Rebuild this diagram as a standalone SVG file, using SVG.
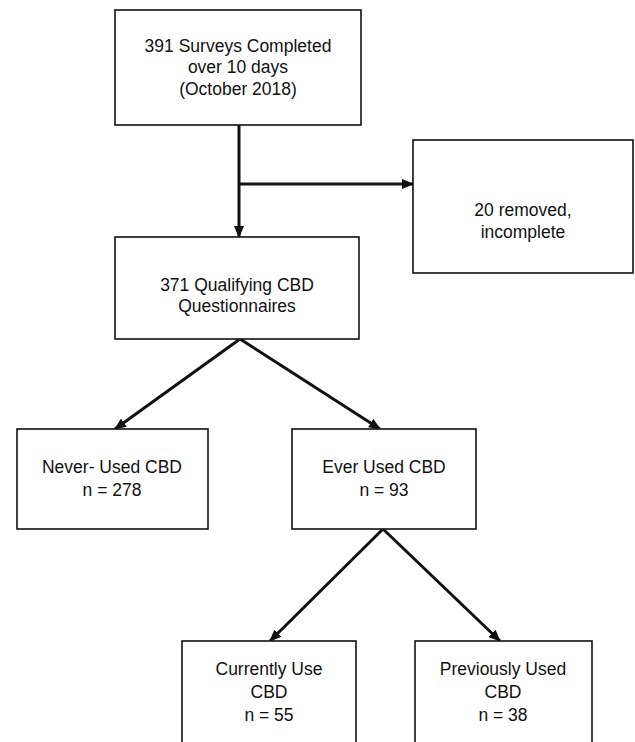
<svg xmlns="http://www.w3.org/2000/svg" width="635" height="742" viewBox="0 0 635 742">
<style>
.box{fill:#fff;stroke:#111;stroke-width:1.6}
.t{font-family:"Liberation Sans",Arial,sans-serif;font-size:17.5px;fill:#111;text-anchor:middle}
.c{fill:none;stroke:#111;stroke-width:3}
</style>
<defs>
<marker id="ah" markerUnits="userSpaceOnUse" markerWidth="12" markerHeight="10" refX="11" refY="5" orient="auto">
<path d="M0,0 L12,5 L0,10 z" fill="#111"/>
</marker>
</defs>
<rect width="635" height="742" fill="#fff"/>
<g id="connectors">
<line class="c" x1="239" y1="125" x2="239" y2="237" marker-end="url(#ah)"/>
<line class="c" x1="239" y1="184" x2="413" y2="184" marker-end="url(#ah)"/>
<line class="c" x1="240" y1="339" x2="115" y2="429" marker-end="url(#ah)"/>
<line class="c" x1="240" y1="339" x2="380" y2="429" marker-end="url(#ah)"/>
<line class="c" x1="383" y1="529" x2="270" y2="641" marker-end="url(#ah)"/>
<line class="c" x1="383" y1="529" x2="500" y2="641" marker-end="url(#ah)"/>
</g>
<g id="surveys">
<rect class="box" x="115" y="10" width="246" height="115"/>
<text class="t" x="238" y="52">391 Surveys Completed</text>
<text class="t" x="238" y="73">over 10 days</text>
<text class="t" x="238" y="95">(October 2018)</text>
</g>
<g id="removed">
<rect class="box" x="413" y="140" width="220" height="133"/>
<text class="t" x="523" y="216">20 removed,</text>
<text class="t" x="523" y="238">incomplete</text>
</g>
<g id="qualifying">
<rect class="box" x="115" y="237" width="244" height="102"/>
<text class="t" x="237" y="291">371 Qualifying CBD</text>
<text class="t" x="237" y="312">Questionnaires</text>
</g>
<g id="never">
<rect class="box" x="17" y="429" width="191" height="100"/>
<text class="t" x="112" y="473">Never- Used CBD</text>
<text class="t" x="112" y="496">n = 278</text>
</g>
<g id="ever">
<rect class="box" x="292" y="429" width="184" height="100"/>
<text class="t" x="384" y="473">Ever Used CBD</text>
<text class="t" x="384" y="496">n = 93</text>
</g>
<g id="current">
<rect class="box" x="182" y="641" width="174" height="110"/>
<text class="t" x="269" y="675">Currently Use</text>
<text class="t" x="269" y="698">CBD</text>
<text class="t" x="269" y="721">n = 55</text>
</g>
<g id="previous">
<rect class="box" x="415" y="641" width="177" height="110"/>
<text class="t" x="503" y="675">Previously Used</text>
<text class="t" x="503" y="698">CBD</text>
<text class="t" x="503" y="721">n = 38</text>
</g>
</svg>
